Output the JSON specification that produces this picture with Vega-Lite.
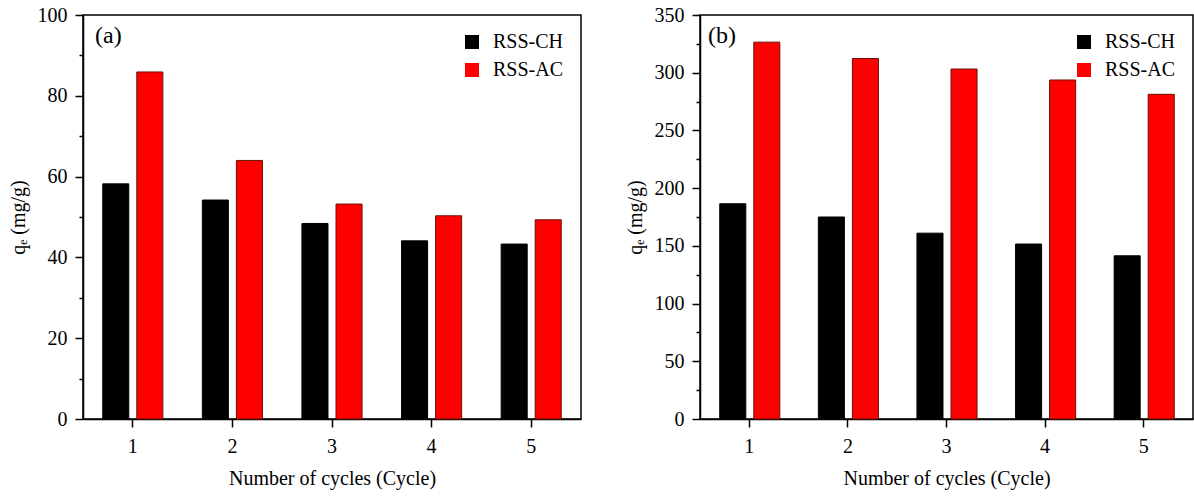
{
  "$schema": "https://vega.github.io/schema/vega-lite/v6.json",
  "background": "white",
  "padding": {"left": 7, "top": 4, "right": 4, "bottom": 5},
  "datasets": {
    "a": [
      {"cycle": "1", "series": "RSS-CH", "qe": 58.2},
      {"cycle": "1", "series": "RSS-AC", "qe": 85.9},
      {"cycle": "2", "series": "RSS-CH", "qe": 54.2},
      {"cycle": "2", "series": "RSS-AC", "qe": 64.0},
      {"cycle": "3", "series": "RSS-CH", "qe": 48.4},
      {"cycle": "3", "series": "RSS-AC", "qe": 53.2},
      {"cycle": "4", "series": "RSS-CH", "qe": 44.1},
      {"cycle": "4", "series": "RSS-AC", "qe": 50.3},
      {"cycle": "5", "series": "RSS-CH", "qe": 43.3},
      {"cycle": "5", "series": "RSS-AC", "qe": 49.3}
    ],
    "b": [
      {"cycle": "1", "series": "RSS-CH", "qe": 186.5},
      {"cycle": "1", "series": "RSS-AC", "qe": 326.5},
      {"cycle": "2", "series": "RSS-CH", "qe": 175.0},
      {"cycle": "2", "series": "RSS-AC", "qe": 312.3},
      {"cycle": "3", "series": "RSS-CH", "qe": 161.0},
      {"cycle": "3", "series": "RSS-AC", "qe": 303.2},
      {"cycle": "4", "series": "RSS-CH", "qe": 151.6},
      {"cycle": "4", "series": "RSS-AC", "qe": 293.7},
      {"cycle": "5", "series": "RSS-CH", "qe": 141.4},
      {"cycle": "5", "series": "RSS-AC", "qe": 281.3}
    ]
  },
  "spacing": 42,
  "resolve": {"legend": {"color": "independent"}, "scale": {"y": "independent", "color": "independent"}},
  "hconcat": [
    {
      "width": 498,
      "height": 404,
      "data": {"name": "a"},
      "title": {"text": "(a)", "anchor": "start", "frame": "group", "orient": "top", "offset": -43, "dx": 12, "fontSize": 24, "fontWeight": "normal", "font": "Liberation Serif", "color": "black"},
      "mark": {"type": "bar", "strokeWidth": 1},
      "encoding": {
        "x": {"field": "cycle", "type": "ordinal", "scale": {"paddingInner": 0, "paddingOuter": 0},
          "axis": {"title": "Number of cycles (Cycle)", "labelAngle": 0, "tickSize": 8, "labelPadding": 9}},
        "xOffset": {"field": "series", "type": "nominal", "scale": {"domain": ["RSS-CH", "RSS-AC"], "paddingInner": 0.235, "paddingOuter": 0.58}},
        "y": {"field": "qe", "type": "quantitative", "scale": {"domain": [0, 100]},
          "axis": {"title": "qₑ (mg/g)", "values": [0, 10, 20, 30, 40, 50, 60, 70, 80, 90, 100],
            "labelExpr": "datum.value % 20 == 0 ? datum.label : ''",
            "tickSize": {"condition": {"test": "datum.value % 20 != 0", "value": 4}, "value": 8}}},
        "color": {"field": "series", "type": "nominal",
          "scale": {"domain": ["RSS-CH", "RSS-AC"], "range": ["#000000", "#ff0000"]},
          "legend": {"orient": "top-right", "offset": 17, "title": null, "symbolType": "square", "symbolSize": 196, "symbolStrokeWidth": 0, "labelFontSize": 20, "labelOffset": 11, "rowPadding": 8}},
        "stroke": {"condition": {"test": "datum.series === 'RSS-AC'", "value": "#6a1000"}, "value": "#000000"}
      }
    },
    {
      "width": 493,
      "height": 404,
      "data": {"name": "b"},
      "title": {"text": "(b)", "anchor": "start", "frame": "group", "orient": "top", "offset": -43, "dx": 8, "fontSize": 24, "fontWeight": "normal", "font": "Liberation Serif", "color": "black"},
      "mark": {"type": "bar", "strokeWidth": 1},
      "encoding": {
        "x": {"field": "cycle", "type": "ordinal", "scale": {"paddingInner": 0, "paddingOuter": 0},
          "axis": {"title": "Number of cycles (Cycle)", "labelAngle": 0, "tickSize": 8, "labelPadding": 9}},
        "xOffset": {"field": "series", "type": "nominal", "scale": {"domain": ["RSS-CH", "RSS-AC"], "paddingInner": 0.235, "paddingOuter": 0.58}},
        "y": {"field": "qe", "type": "quantitative", "scale": {"domain": [0, 350]},
          "axis": {"title": "qₑ (mg/g)", "values": [0, 25, 50, 75, 100, 125, 150, 175, 200, 225, 250, 275, 300, 325, 350],
            "labelExpr": "datum.value % 50 == 0 ? datum.label : ''",
            "tickSize": {"condition": {"test": "datum.value % 50 != 0", "value": 4}, "value": 8}}},
        "color": {"field": "series", "type": "nominal",
          "scale": {"domain": ["RSS-CH", "RSS-AC"], "range": ["#000000", "#ff0000"]},
          "legend": {"orient": "top-right", "offset": 17, "title": null, "symbolType": "square", "symbolSize": 196, "symbolStrokeWidth": 0, "labelFontSize": 20, "labelOffset": 11, "rowPadding": 8}},
        "stroke": {"condition": {"test": "datum.series === 'RSS-AC'", "value": "#6a1000"}, "value": "#000000"}
      }
    }
  ],
  "config": {
    "font": "Liberation Serif",
    "view": {"stroke": "#000000", "strokeWidth": 1.5},
    "axis": {
      "grid": false,
      "domainColor": "#000000",
      "domainWidth": 1.5,
      "tickColor": "#000000",
      "tickWidth": 1.5,
      "labelColor": "#000000",
      "labelFont": "Liberation Serif",
      "labelFontSize": 20,
      "titleFont": "Liberation Serif",
      "titleFontSize": 20,
      "titleFontWeight": "normal",
      "titleColor": "#000000"
    },
    "axisY": {"labelPadding": 8, "titlePadding": 9},
    "axisX": {"titlePadding": 12},
    "legend": {"labelFont": "Liberation Serif", "labelColor": "#000000"}
  }
}
